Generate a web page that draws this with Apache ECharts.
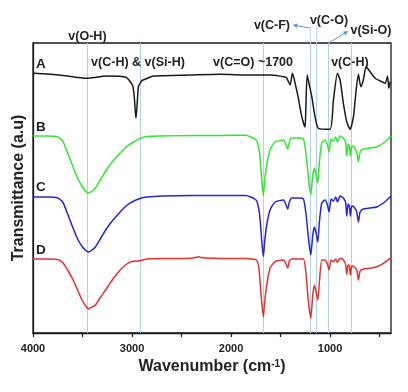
<!DOCTYPE html>
<html><head><meta charset="utf-8">
<script src="https://cdn.jsdelivr.net/npm/echarts@6/dist/echarts.min.js"></script>
<style>html,body{margin:0;padding:0;background:#fff}#c{width:408px;height:392px}</style>
</head><body><div id="c"></div>
<script>
// ---- data (wavenumber in cm-1, transmittance in arbitrary units, curves stacked) ----
const aWave = [4000,3730,3460,3260,3060,2990,2960,2936,2919,2902,2869,2785,2400,2110,1800,1600,1455,1438,1404,1380,1353,1320,1286,1253,1245,1232,1220,1185,1152,1118,1000,966,926,899,866,832,798,764,737,714,690,664,636,596,545,478,444,420,407,394,386];
const aT = [259.7,258,254.7,257,255.7,246.3,214.7,246.3,249.7,252.3,253.7,257,258,258.7,258,258,256,255,248,259.7,249.7,234.7,216.3,205.7,225,258,253,236.3,216.3,204.7,203.7,233,259.7,253,229.7,211.3,203.7,216.3,243,258.7,246.3,253.3,266.3,261.3,254.7,251.3,249.7,257,244.7,251,250];

const bcdWave = [4000,3850,3750,3700,3650,3600,3550,3500,3460,3440,3410,3370,3320,3260,3200,3120,3060,3000,2920,2850,2700,2400,2320,2300,2100,1850,1800,1760,1740,1720,1707,1690,1674,1660,1640,1606,1556,1471,1444,1428,1411,1387,1320,1269,1242,1219,1195,1175,1158,1141,1124,1108,1084,1050,1027,1010,990,967,943,926,899,866,842,832,818,805,795,781,758,731,714,697,664,596,529,462,394,386];
const bT = [197,197,196,192,180,167,155,146,141,140,141.5,145,153,163,171,180,186,190,194.5,196.5,197,197.5,197.5,197.5,197.5,197.8,196,194,192,185,175,153,137,153,168,183,191,193,188,184,191,195,195,194,178,155,138,158,165,158,150,171,190,193,188,181,194,192,196,191,197,195,190,177,189,187,177,187,186,181,171,181,184,185,186,190,196,197];
const cT = [136,136,135,131,119,106,94,86,82,81,82.5,86,94,104,112,121,127,131,134.5,136,137,137.5,137.5,137.5,137.5,137.5,136,134,132,124,114,92,76.5,92,108,123,131,133,128,124,131,135,135,134,118,95,78,98,106,100,91,111,130,133,128,121,134,132,136,131,137,135,130,117,129,127,117,127,126,121,111,121,124,125,126,130,136,137];
const dT = [74,74,73.5,70.5,63,54,43,32,26,24,25.5,28,35.5,44,53,63,68.5,71.5,72.3,74,74.5,74.8,76.3,75.2,74.6,74.5,74,73.5,72.5,66,51,30,16,32,48,65,71.3,73,69,64.7,72,74,74,74,58,31,14.7,38,48,41,33,51,73,73,69,63,73,71.3,74,70.7,74.7,73,68,58.7,68,67.3,58,67.3,66.3,63,53,62,64,64.7,66.3,69.7,74.7,75];

const seriesNames = ['A','B','C','D'];
const xLabelValues = [4000,3000,2000,1000];
const xTickValues = [4000,3500,3000,2500,2000,1500,1000,500];
const peakLines = [3450,2920,1680,1200,1135,1015,790];

// annotation anchors in data coordinates [wavenumber, a.u.]
const bandLabels = [
  {text:'v(O-H)', w:3450, t:296, align:'center'},
  {text:'v(C-H) & v(Si-H)', w:2940, t:270, align:'center'},
  {text:'v(C=O) ~1700', w:1778, t:270, align:'center'},
  {text:'v(C-H)', w:800, t:270, align:'center'},
  {text:'v(C-F)', w:1405, t:307, align:'right'},
  {text:'v(C-O)', w:1011, t:312, align:'center'},
  {text:'v(Si-O)', w:587, t:302, align:'center'}
];
const curveLabels = [{text:'A', t:269},{text:'B', t:206},{text:'C', t:146},{text:'D', t:83}];
const curveLabelW = 3970;
const lineExtensions = [{w:1200, t0:290, t1:305},{w:1135, t0:290, t1:306}];
const arrows = [{from:[1200,305], to:[1380,308]}, {from:[1015,290], to:[815,302]}];

// ---- chart ----
const FONT = '"Liberation Sans", Arial, sans-serif';
const colors = ['#1a1a1a','#33e633','#2424dc','#e63030'];
const chart = echarts.init(document.getElementById('c'), null, {width:408, height:392});
const pairs = (w, v) => w.map((x, i) => [x, v[i]]);
const curveData = [pairs(aWave, aT), pairs(bcdWave, bT), pairs(bcdWave, cT), pairs(bcdWave, dT)];

const series = curveData.map((d, i) => ({
  name: seriesNames[i], type:'line', data:d, showSymbol:false, smooth:0.2, z:3,
  lineStyle:{color:colors[i], width:1.5}, itemStyle:{color:colors[i]}, silent:true
}));
series.push({
  name:'lines', type:'line', data:[], z:1, silent:true,
  markLine:{ silent:true, symbol:['none','none'], z:1, label:{show:false}, animation:false,
    lineStyle:{color:'#b3cfe6', width:1, type:'solid'},
    data: peakLines.map(w => ({xAxis:w})) }
});

chart.setOption({
  animation:false,
  backgroundColor:'#fff',
  grid:{left:33, right:17, top:43, bottom:59, show:true, borderColor:'#1a1a1a', borderWidth:1.3},
  xAxis:{
    type:'value', inverse:true, min:385, max:4000,
    axisLine:{show:true, lineStyle:{color:'#1a1a1a', width:1.3}},
    axisTick:{show:true, customValues:xTickValues, length:4, inside:false, lineStyle:{color:'#1a1a1a', width:1.2}},
    axisLabel:{customValues:xLabelValues, formatter:v => String(v), fontFamily:FONT, fontWeight:'bold', fontSize:11, color:'#222', margin:10},
    splitLine:{show:false},
    name:'Wavenumber (cm{sup|-1})', nameLocation:'middle', nameGap:26,
    nameTextStyle:{fontFamily:FONT, fontWeight:'bold', fontSize:16, color:'#222',
      rich:{sup:{fontFamily:FONT, fontWeight:'bold', fontSize:10, color:'#222', verticalAlign:'top'}}}
  },
  yAxis:{
    type:'value', min:0, max:290,
    axisLine:{show:true, lineStyle:{color:'#1a1a1a', width:1.3}},
    axisTick:{show:false}, axisLabel:{show:false}, splitLine:{show:false},
    name:'Transmittance (a.u)', nameLocation:'middle', nameGap:6, nameRotate:90,
    nameTextStyle:{fontFamily:FONT, fontWeight:'bold', fontSize:16, color:'#222'}
  },
  series: series
});

// ---- annotations positioned through the axes ----
const P = (w, t) => chart.convertToPixel({gridIndex:0}, [w, t]);
const g = [];
const txt = (s, p, align, size) => ({type:'text', x:p[0], y:p[1], z:10, silent:true,
  style:{text:s, fill:'#222', fontFamily:FONT, fontWeight:'bold', fontSize:size, align:align, verticalAlign:'middle'}});
bandLabels.forEach(l => g.push(txt(l.text, P(l.w, l.t), l.align, 12.5)));
curveLabels.forEach(l => g.push(txt(l.text, P(curveLabelW, l.t), 'left', 13.5)));
lineExtensions.forEach(e => { const a = P(e.w, e.t0), b = P(e.w, e.t1);
  g.push({type:'line', z:1, silent:true, shape:{x1:a[0], y1:a[1], x2:b[0], y2:b[1]}, style:{stroke:'#b3cfe6', lineWidth:1}}); });
arrows.forEach(ar => { const a = P(ar.from[0], ar.from[1]), b = P(ar.to[0], ar.to[1]);
  const dx = b[0]-a[0], dy = b[1]-a[1], L = Math.hypot(dx, dy), ux = dx/L, uy = dy/L, s = 5;
  const bx = b[0]-ux*s, by = b[1]-uy*s;
  g.push({type:'line', z:5, silent:true, shape:{x1:a[0], y1:a[1], x2:bx, y2:by}, style:{stroke:'#5b9bd5', lineWidth:1}});
  g.push({type:'polygon', z:5, silent:true, shape:{points:[[b[0], b[1]], [bx - uy*2.3, by + ux*2.3], [bx + uy*2.3, by - ux*2.3]]}, style:{fill:'#5b9bd5'}});
});
chart.setOption({graphic:{elements:g}});
</script>
</body></html>
